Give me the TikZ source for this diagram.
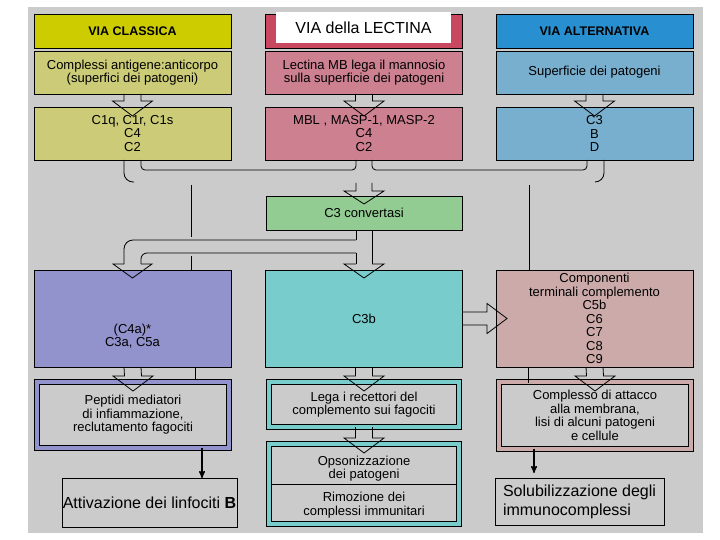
\documentclass[tikz,border=0pt]{standalone}
\usepackage{fontspec}
\setmainfont{Liberation Sans}
\usepackage{tikz}
\usetikzlibrary{arrows}
\definecolor{back_gray}{RGB}{203,203,203}
\definecolor{head_yellow}{RGB}{204,204,0}
\definecolor{node_yellow}{RGB}{204,204,120}
\definecolor{head_red}{RGB}{200,72,96}
\definecolor{node_red}{RGB}{204,128,144}
\definecolor{head_blue}{RGB}{40,144,208}
\definecolor{node_blue}{RGB}{120,174,206}
\definecolor{node_green}{RGB}{146,204,146}
\definecolor{node_violet}{RGB}{146,146,204}
\definecolor{node_teal}{RGB}{120,204,204}
\definecolor{node_rose}{RGB}{204,170,170}

% hollow block arrow from the bottom of one box into the top of the next
\newcommand\bigdown[2]{
  \draw ([xshift=-8.5pt]#1.south) -- ([xshift=-8.5pt,yshift=6pt]#2.north)
     -- ([xshift=-20pt,yshift=6pt]#2.north) -- ([yshift=-9pt]#2.north)
     -- ([xshift=20pt,yshift=6pt]#2.north) -- ([xshift=8.5pt,yshift=6pt]#2.north)
     -- ([xshift=8.5pt]#1.south);}

\begin{document}
\begin{tikzpicture}[x=1pt,y=-1pt,->,>=stealth',line width=0.8pt]
    \tikzstyle{box}=[draw=black, rectangle, inner sep=0pt, outer sep=0pt, align=center, text=black, font=\fontsize{13}{13.5}\selectfont]
    \tikzstyle{head}=[style=box, minimum width=197pt, minimum height=34pt, font=\fontsize{12.5}{13}\selectfont\bfseries]
    \tikzstyle{srcbox}=[style=box, minimum width=197pt, minimum height=43pt]
    \tikzstyle{facbox}=[style=box, minimum width=197pt, minimum height=53pt]
    \tikzstyle{bigbox}=[style=box, minimum width=197pt, minimum height=97pt]
    \tikzstyle{framed}=[style=box, fill=back_gray, double distance=4.5pt]
    \tikzstyle{outbox}=[style=box, fill=back_gray, font=\fontsize{16}{19}\selectfont]
    \tikzstyle{txt}=[align=center, inner sep=0pt, font=\fontsize{13}{13.5}\selectfont]

    \useasboundingbox (0,0) rectangle (720,540);
    \fill[back_gray] (28,7) rectangle (703,533);

    % the three pathways
    \node[head, fill=head_yellow] (cv) at (132.5,31) {VIA CLASSICA};
    \node[head, fill=head_red]    (lv) at (364,31)   {};
    \node[fill=white, inner sep=0pt, minimum width=175pt, minimum height=31pt, font=\fontsize{16}{16}\selectfont] (lt) at (363.5,27.5) {VIA della LECTINA};
    \node[head, fill=head_blue]   (av) at (594.5,31) {VIA ALTERNATIVA};

    \node[srcbox, fill=node_yellow] (c1) at (132.5,72.5) {Complessi antigene:anticorpo\\(superfici dei patogeni)};
    \node[srcbox, fill=node_red]    (l1) at (364,72.5)   {Lectina MB lega il mannosio\\sulla superficie dei patogeni};
    \node[srcbox, fill=node_blue]   (a1) at (594.5,72.5) {Superficie dei patogeni};

    \node[facbox, fill=node_yellow] (c2) at (132.5,133.5) {C1q, C1r, C1s\\C4\\C2};
    \node[facbox, fill=node_red]    (l2) at (364,133.5)   {MBL , MASP-1, MASP-2\\C4\\C2};
    \node[facbox, fill=node_blue]   (a2) at (594.5,133.5) {C3\\B\\D};

    \node[box, fill=node_green, minimum width=196pt, minimum height=34pt] (cc) at (364,213) {C3 convertasi};

    \node[bigbox, fill=node_violet] (la) at (132.5,318.5) {};
    \node[txt] (lat) at (132.5,336) {(C4a)*\\C3a, C5a};
    \node[bigbox, fill=node_teal]   (lb) at (364,318.5)   {C3b};
    \node[bigbox, fill=node_rose]   (lc) at (594.5,318.5) {Componenti\\terminali complemento\\C5b\\C6\\C7\\C8\\C9};

    \node[framed, double=node_violet, minimum width=192pt, minimum height=66pt] (fa) at (133,415) {Peptidi mediatori\\di infiammazione,\\reclutamento fagociti};
    \node[framed, double=node_teal, minimum width=190pt, minimum height=45pt] (fb1) at (364,404.5) {Lega i recettori del\\complemento sui fagociti};
    \node[framed, double=node_teal, minimum width=190pt, minimum height=80pt] (fb2) at (364,484) {};
    \node[txt] (op) at (364,468.5) {Opsonizzazione\\dei patogeni};
    \node[txt] (ri) at (364,505) {Rimozione dei\\complessi immunitari};
    \node[framed, double=node_rose, minimum width=192pt, minimum height=67pt] (fc) at (595,415.5) {Complesso di attacco\\alla membrana,\\lisi di alcuni patogeni\\e cellule};

    \node[outbox, minimum width=175pt, minimum height=49pt] (at) at (149.5,502.5) {Attivazione dei linfociti \textbf{B}};
    \node[outbox, align=left, minimum width=169pt, minimum height=47pt] (sb) at (579.5,501.5) {Solubilizzazione degli\\immunocomplessi};

    \begin{scope}[-]
    \draw ([xshift=2.8pt]fb2.west |- 0,484) -- ([xshift=-2.8pt]fb2.east |- 0,484);

    \bigdown{c1}{c2}
    \bigdown{l1}{l2}
    \bigdown{a1}{a2}
    \bigdown{la}{fa}
    \bigdown{lb}{fb1}
    \bigdown{fb1}{fb2}
    \bigdown{lc}{fc}

    % merging into C3 convertasi
    \draw[rounded corners=9pt] (124,160) |- (134,182);
    \draw[rounded corners=4pt] (141,160) -- (141,170) -- (356,170) -- (356,160);
    \draw[rounded corners=4pt] (372,160) -- (372,170) -- (587,170) -- (587,160);
    \draw[rounded corners=9pt] (604,160) |- (595,182);
    \draw (356,183) -- (356,191) -- (344,191) -- (364,204) -- (384,191) -- (372,191) -- (372,183);

    % splitting out of C3 convertasi
    \draw (356,230) -- (356,240);
    \draw[rounded corners=9pt] (356,240) -| (124,264);
    \draw[rounded corners=6pt] (356,253) -| (141,264);
    \draw (356,253) -- (356,264);
    \draw (372,230) -- (372,264);
    \draw (124,264) -- (113,264) -- (132.5,278) -- (152,264) -- (141,264);
    \draw (356,264) -- (344,264) -- (364,278) -- (384,264) -- (372,264);

    \draw ([yshift=6.5pt]lb.east) -- ([xshift=-9pt,yshift=6.5pt]lc.west) -- ([xshift=-9pt,yshift=15pt]lc.west) -- ([xshift=11pt]lc.west)
       -- ([xshift=-9pt,yshift=-15pt]lc.west) -- ([xshift=-9pt,yshift=-6.5pt]lc.west) -- ([yshift=-6.5pt]lb.east);

    % thin side lines
    \draw (191,185) -- (191,237);
    \draw (191,256) -- (191,0 |- la.north);
    \draw (529,185) -- (529,0 |- lc.north);
    \draw (195,0 |- la.south) -- (195,379);
    \draw (528,0 |- lc.south) -- (528,383);
    \end{scope}

    \path[line width=1.4pt]
     (202,0 |- fa.south) edge[] (202,0 |- at.north)
     (534,0 |- fc.south) edge[shorten >=5pt] (534,0 |- sb.north)
     ;
\end{tikzpicture}
\end{document}
